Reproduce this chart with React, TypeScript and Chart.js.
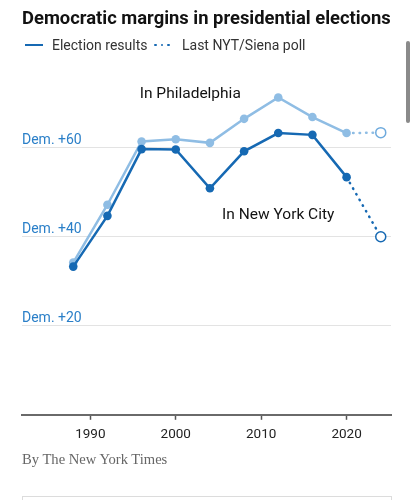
import React, { useEffect, useRef } from "react";
import { Chart, registerables } from "chart.js";
Chart.register(...registerables);

const years = [1988, 1992, 1996, 2000, 2004, 2008, 2012, 2016, 2020];
const nycResults = [33.3, 44.7, 59.7, 59.6, 50.9, 59.2, 63.3, 62.9, 53.4];
const phillyResults = [34.2, 47.2, 61.4, 61.9, 61.1, 66.5, 71.3, 66.9, 63.3];
const pollYear = 2024;
const nycPoll = 40.0;
const phillyPoll = 63.4;
const xTickYears = [1990, 2000, 2010, 2020];
const yTickValues = [20, 40, 60];
const yTickLabels = ["Dem. +20", "Dem. +40", "Dem. +60"];
const cityLabels = ["In Philadelphia", "In New York City"];
const cityLabelYears = [2001.7, 2012.0];
const cityLabelValues = [71.1, 44.1];

const DARK = "#1669b3";
const LIGHT = "#8fbde4";
const LABEL_BLUE = "#2a7fc8";
const FONT = "Roboto, 'Liberation Sans', sans-serif";

const labelPlugin = {
  id: "customLabels",
  beforeDatasetsDraw(chart: any) {
    const { ctx, chartArea, scales } = chart;
    ctx.save();
    ctx.font = `14px ${FONT}`;
    ctx.fillStyle = LABEL_BLUE;
    ctx.textAlign = "left";
    ctx.textBaseline = "alphabetic";
    yTickValues.forEach((v, i) => {
      const y = scales.y.getPixelForValue(v);
      ctx.fillText(yTickLabels[i], chartArea.left, y - 4);
    });
    ctx.restore();
  },
  afterDatasetsDraw(chart: any) {
    const { ctx, scales } = chart;
    ctx.save();
    ctx.font = `15.5px ${FONT}`;
    ctx.fillStyle = "#121212";
    ctx.textAlign = "center";
    ctx.textBaseline = "alphabetic";
    cityLabels.forEach((t, i) => {
      ctx.fillText(
        t,
        scales.x.getPixelForValue(cityLabelYears[i]),
        scales.y.getPixelForValue(cityLabelValues[i])
      );
    });
    ctx.restore();
  },
};

function pts(vals: number[]) {
  return years.map((yr, i) => ({ x: yr, y: vals[i] }));
}

export default function App() {
  const ref = useRef<HTMLCanvasElement>(null);
  useEffect(() => {
    if (!ref.current) return;
    const lastIdx = years.length - 1;
    const chart = new Chart(ref.current, {
      type: "line",
      data: {
        datasets: [
          {
            label: "NYC results",
            data: pts(nycResults),
            borderColor: DARK,
            backgroundColor: DARK,
            pointBackgroundColor: DARK,
            pointBorderColor: DARK,
            borderWidth: 2.5,
            pointRadius: 4.3,
            pointBorderWidth: 0,
            order: 0,
          },
          {
            label: "NYC poll",
            data: [
              { x: years[lastIdx], y: nycResults[lastIdx] },
              { x: pollYear, y: nycPoll },
            ],
            borderColor: DARK,
            borderWidth: 2.5,
            borderDash: [0.5, 6],
            borderCapStyle: "round",
            pointRadius: [0, 5],
            pointBackgroundColor: "#ffffff",
            pointBorderColor: DARK,
            pointBorderWidth: 1.5,
            order: 1,
          },
          {
            label: "Philadelphia results",
            data: pts(phillyResults),
            borderColor: LIGHT,
            backgroundColor: LIGHT,
            pointBackgroundColor: LIGHT,
            pointBorderColor: LIGHT,
            borderWidth: 2.5,
            pointRadius: 4.3,
            pointBorderWidth: 0,
            order: 2,
          },
          {
            label: "Philadelphia poll",
            data: [
              { x: years[lastIdx], y: phillyResults[lastIdx] },
              { x: pollYear, y: phillyPoll },
            ],
            borderColor: LIGHT,
            borderWidth: 2.5,
            borderDash: [0.5, 6],
            borderCapStyle: "round",
            pointRadius: [0, 5],
            pointBackgroundColor: "#ffffff",
            pointBorderColor: "#6eaadd",
            pointBorderWidth: 1.5,
            order: 3,
          },
        ],
      },
      options: {
        animation: false,
        responsive: false,
        devicePixelRatio: 1,
        layout: { padding: { top: 81, left: 22, right: 22, bottom: 2 } },
        plugins: { legend: { display: false }, tooltip: { enabled: false }, title: { display: false } },
        scales: {
          x: {
            type: "linear",
            min: 1982,
            max: 2025.2,
            afterBuildTicks: (s: any) => {
              s.ticks = xTickYears.map((v) => ({ value: v }));
            },
            grid: {
              drawOnChartArea: false,
              drawTicks: true,
              tickLength: 5,
              tickColor: "#555",
              tickWidth: 1.5,
            },
            border: { display: true, color: "#6a6a6a", width: 2 },
            ticks: {
              color: "#222",
              font: { family: FONT, size: 13.5 },
              padding: 7,
              maxRotation: 0,
              autoSkip: false,
              callback: (v: any) => String(v),
            },
          },
          y: {
            type: "linear",
            min: 0,
            max: 75,
            afterBuildTicks: (s: any) => {
              s.ticks = yTickValues.map((v) => ({ value: v }));
            },
            grid: { color: "#e3e3e3", lineWidth: 1, drawTicks: false },
            border: { display: false },
            ticks: { display: false },
          },
        },
      },
      plugins: [labelPlugin],
    } as any);
    return () => chart.destroy();
  }, []);

  return (
    <div
      style={{
        position: "absolute",
        left: 0,
        top: 0,
        width: 413,
        height: 500,
        overflow: "hidden",
        background: "#fff",
        fontFamily: FONT,
      }}
    >
      <canvas
        ref={ref}
        width={413}
        height={452}
        style={{ position: "absolute", left: 0, top: 0, width: 413, height: 452 }}
      />
      <div
        style={{
          position: "absolute",
          left: 22,
          top: 7,
          fontSize: 18.4,
          lineHeight: "22px",
          fontWeight: 700,
          color: "#121212",
          whiteSpace: "nowrap",
        }}
      >
        Democratic margins in presidential elections
      </div>
      <div
        style={{
          position: "absolute",
          left: 25,
          top: 36,
          height: 18,
          display: "flex",
          alignItems: "center",
          fontSize: 14,
          lineHeight: "18px",
          color: "#333",
          whiteSpace: "nowrap",
        }}
      >
        <span style={{ display: "inline-block", width: 18, height: 2.5, background: DARK, marginRight: 9 }} />
        <span>Election results</span>
        <span style={{ display: "inline-flex", gap: 4, marginLeft: 7, marginRight: 12 }}>
          {[0, 1, 2].map((i) => (
            <span
              key={i}
              style={{ display: "inline-block", width: 2.5, height: 2.5, borderRadius: "50%", background: DARK }}
            />
          ))}
        </span>
        <span>Last NYT/Siena poll</span>
      </div>
      <div
        style={{
          position: "absolute",
          left: 406,
          top: 41,
          width: 3.5,
          height: 82,
          borderRadius: 2,
          background: "#8a8a8a",
        }}
      />
      <div
        style={{
          position: "absolute",
          left: 22,
          top: 449,
          fontFamily: "'Liberation Serif', 'DejaVu Serif', serif",
          fontSize: 14.6,
          lineHeight: "20px",
          color: "#666",
          whiteSpace: "nowrap",
        }}
      >
        By The New York Times
      </div>
      <div
        style={{
          position: "absolute",
          left: 22,
          top: 496,
          width: 368,
          height: 20,
          border: "1px solid #dcdcdc",
        }}
      />
    </div>
  );
}
